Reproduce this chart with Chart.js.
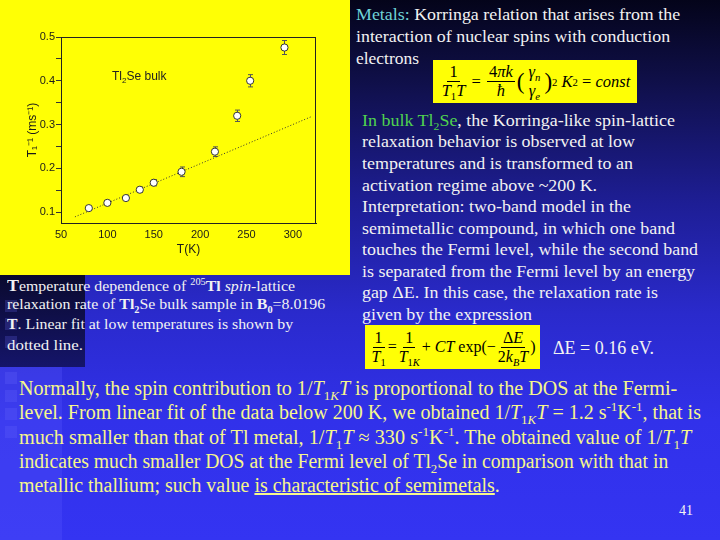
<!DOCTYPE html>
<html>
<head>
<meta charset="utf-8">
<script src="https://cdn.jsdelivr.net/npm/chart.js@4.4.0/dist/chart.umd.min.js"></script>
<style>
  body { margin: 0; width: 720px; height: 540px; overflow: hidden; position: relative;
    background: linear-gradient(to bottom, #04041a 0%, #10104c 16%, #1e1e96 38%, #2a2acc 58%, #3131ea 78%, #3434f2 100%);
    font-family: "Liberation Serif", "Times New Roman", serif; color: #f2f2f2; }
  .ln { position: absolute; white-space: nowrap; line-height: 1; transform-origin: 0 0; }
  #panel { position: absolute; left: 0; top: 0; width: 350px; height: 275px; background: #ffff05; }
  #leftDark { position: absolute; left: 0; top: 275px; width: 85px; height: 92px;
    background: linear-gradient(to bottom, #0a0a2e, #15156a); }
  #strip { position: absolute; left: 0; top: 367px; width: 62px; height: 173px; background: rgba(90, 90, 255, 0.28); }
  .sq { position: absolute; left: 5px; width: 12px; height: 12px; background: rgba(110, 110, 255, 0.22); }
  .box { position: absolute; background: #ffff05; color: #000; display: flex; align-items: center;
    justify-content: center; white-space: nowrap; }
  .fr { display: inline-flex; flex-direction: column; align-items: center; vertical-align: middle; line-height: 1.1; margin: 0 2px; }
  .fr > span:first-child { border-bottom: 1px solid #000; padding: 0 2px; }
  .fr.nb > span:first-child { border-bottom: 0; }
  .big { font-size: 140%; font-weight: lighter; }
  sub, sup { font-size: 65%; line-height: 0; }
  .b { font-weight: bold; }
</style>
</head>
<body>
<div id="leftDark"></div>
<div id="strip"></div>
<div class="sq" style="top:300px"></div>
<div class="sq" style="top:318px"></div>
<div class="sq" style="top:336px"></div>
<div class="sq" style="top:372px"></div>
<div class="sq" style="top:390px"></div>
<div class="sq" style="top:408px"></div>
<div class="sq" style="top:426px"></div>

<div id="panel"><canvas id="chart" width="350" height="275"></canvas></div>

<div class="box" style="left:433px;top:60px;width:204px;height:43px;font-size:16.5px;">
  <span class="fr"><span>1</span><span><i>T</i><sub>1</sub><i>T</i></span></span>
  &nbsp;=&nbsp;
  <span class="fr"><span>4<i>πk</i></span><span><i>ħ</i></span></span>
  <span class="big">(</span><span class="fr nb"><span><i>γ<sub>n</sub></i></span><span><i>γ<sub>e</sub></i></span></span><span class="big">)</span><sup>2</sup>&nbsp;<i>K</i><sup>2</sup>&nbsp;=&nbsp;<i>const</i>
</div>

<div class="box" style="left:365px;top:325px;width:175px;height:44px;font-size:16px;">
  <span class="fr"><span>1</span><span><i>T</i><sub>1</sub></span></span>=
  <span class="fr"><span>1</span><span><i>T</i><sub>1<i>K</i></sub></span></span>+&nbsp;<i>CT</i>&nbsp;exp(−<span class="fr"><span>Δ<i>E</i></span><span>2<i>k<sub>B</sub>T</i></span></span>)
</div>
<div class="ln" style="left:553px;top:339px;font-size:18px;">ΔE = 0.16 eV.</div>
<div class="ln" style="left:679px;top:504px;font-size:14px;">41</div>

<script>
// values
const temps = [80, 100, 120, 135, 150, 180, 216, 240, 254, 291];
const rates = [0.109, 0.121, 0.132, 0.151, 0.167, 0.192, 0.238, 0.32, 0.4, 0.476];
const errs = [0.004, 0.004, 0.005, 0.006, 0.007, 0.011, 0.011, 0.013, 0.014, 0.016];
const fitT = [65, 320];
const fitRate = [0.089, 0.318];
const xTicks = [50, 100, 150, 200, 250, 300];
const yTicks = [0.1, 0.2, 0.3, 0.4, 0.5];
const yMinor = [0.15, 0.25, 0.35, 0.45];

// slide text
function addLines(lines, x, tops, size, widths, color) {
  lines.forEach((html, i) => {
    const d = document.createElement('div');
    d.className = 'ln';
    d.style.left = x + 'px';
    d.style.top = tops[i] + 'px';
    d.style.fontSize = size + 'px';
    if (color) d.style.color = color;
    d.innerHTML = html;
    d.dataset.w = widths[i];
    document.body.appendChild(d);
  });
}

addLines([
  '<span class="b" style="font-size:17px">T</span>emperature dependence of <sup>205</sup><span class="b">Tl</span> <i>spin</i>-lattice',
  'relaxation rate of <span class="b">Tl<sub>2</sub></span>Se bulk sample in <span class="b">B<sub>0</sub></span>=8.0196',
  '<span class="b">T</span>. Linear fit at low temperatures is shown by',
  'dotted line.'
], 7, [277, 297, 317, 338], 15, [288, 318, 286, 76]);

addLines([
  '<span style="color:#6fd3d6">Metals:</span> Korringa relation that arises from the',
  'interaction of nuclear spins with conduction',
  'electrons'
], 356, [6, 28, 50], 17, [324, 314, 63]);

addLines([
  '<span style="color:#4fd24f">In bulk Tl<sub>2</sub>Se</span>, the Korringa-like spin-lattice',
  'relaxation behavior is observed at low',
  'temperatures and is transformed to an',
  'activation regime above ~200 K.',
  'Interpretation: two-band model in the',
  'semimetallic compound, in which one band',
  'touches the Fermi level, while the second band',
  'is separated from the Fermi level by an energy',
  'gap ΔE. In this case, the relaxation rate is',
  'given by the expression'
], 362, [113, 134, 156, 178, 199, 221, 242, 264, 285, 307], 16.5,
  [313, 273, 271, 235, 269, 313, 336, 333, 296, 170]);

addLines([
  'Normally, the spin contribution to 1/<i>T</i><sub>1<i>K</i></sub><i>T</i> is proportional to the DOS at the Fermi-',
  'level. From linear fit of the data below 200 K, we obtained 1/<i>T</i><sub>1<i>K</i></sub><i>T</i> = 1.2 s<sup>-1</sup>K<sup>-1</sup>, that is',
  'much smaller than that of Tl metal, 1/<i>T</i><sub>1</sub><i>T</i> ≈ 330 s<sup>-1</sup>K<sup>-1</sup>. The obtained value of 1/<i>T</i><sub>1</sub><i>T</i>',
  'indicates much smaller DOS at the Fermi level of Tl<sub>2</sub>Se in comparison with that in',
  'metallic thallium; such value <u>is characteristic of semimetals</u>.'
], 19, [378, 402, 427, 451, 475], 20, [658, 682, 672, 649, 481], '#f6f68c');

document.querySelectorAll('.ln[data-w]').forEach(el => {
  const w = el.getBoundingClientRect().width;
  el.style.transform = 'scaleX(' + (el.dataset.w / w).toFixed(3) + ')';
});

// chart
const frame = {
  id: 'frame',
  beforeDatasetsDraw(chart) {
    const { ctx, scales: { x, y } } = chart;
    ctx.save();
    ctx.strokeStyle = '#555';
    ctx.lineWidth = 1;
    temps.forEach((t, i) => {
      const px = Math.round(x.getPixelForValue(t)) + 0.5;
      const top = y.getPixelForValue(rates[i] + errs[i]);
      const bot = y.getPixelForValue(rates[i] - errs[i]);
      ctx.beginPath();
      ctx.moveTo(px, top); ctx.lineTo(px, bot);
      ctx.moveTo(px - 2.5, top); ctx.lineTo(px + 2.5, top);
      ctx.moveTo(px - 2.5, bot); ctx.lineTo(px + 2.5, bot);
      ctx.stroke();
    });
    ctx.restore();
  },
  afterDraw(chart) {
    const { ctx, chartArea: a, scales: { x, y } } = chart;
    ctx.save();
    ctx.strokeStyle = '#222';
    ctx.lineWidth = 1;
    ctx.strokeRect(Math.round(a.left) + 0.5, Math.round(a.top) + 0.5, Math.round(a.width) - 1, Math.round(a.height));
    // sample label
    ctx.fillStyle = '#222';
    ctx.font = '12px "Liberation Sans", Arial, sans-serif';
    ctx.textBaseline = 'alphabetic';
    let lx = x.getPixelForValue(105);
    const ly = y.getPixelForValue(0.402);
    ctx.fillText('Tl', lx, ly);
    lx += ctx.measureText('Tl').width;
    ctx.font = '8px "Liberation Sans", Arial, sans-serif';
    ctx.fillText('2', lx, ly + 3);
    lx += ctx.measureText('2').width;
    ctx.font = '12px "Liberation Sans", Arial, sans-serif';
    ctx.fillText('Se bulk', lx, ly);
    ctx.restore();
  }
};

const sansFont = { family: '"Liberation Sans", Arial, sans-serif', size: 11 };

new Chart(document.getElementById('chart'), {
  type: 'scatter',
  data: {
    datasets: [
      {
        data: temps.map((t, i) => ({ x: t, y: rates[i] })),
        pointRadius: 3.6,
        pointBackgroundColor: '#ffffff',
        pointBorderColor: '#333333',
        pointBorderWidth: 1,
        order: 1
      },
      {
        type: 'line',
        data: fitT.map((t, i) => ({ x: t, y: fitRate[i] })),
        showLine: true,
        borderColor: '#333333',
        borderWidth: 1,
        borderDash: [1, 2],
        pointRadius: 0,
        order: 2
      }
    ]
  },
  options: {
    responsive: false,
    animation: false,
    layout: { padding: { left: 0, right: 34, top: 37, bottom: 0 } },
    plugins: { legend: { display: false }, tooltip: { enabled: false } },
    scales: {
      x: {
        type: 'linear', min: 50, max: 325,
        afterBuildTicks: s => { s.ticks = xTicks.map(v => ({ value: v })); },
        afterFit: s => { s.height = 52; },
        grid: { drawOnChartArea: false, drawTicks: false },
        border: { color: '#222', width: 1 },
        ticks: { padding: 5, color: '#1a1a1a', font: sansFont, maxRotation: 0, autoSkip: false },
        title: { display: true, text: 'T(K)', color: '#1a1a1a', font: { family: sansFont.family, size: 12 }, padding: { top: 0, bottom: 18 } }
      },
      y: {
        type: 'linear', min: 0.075, max: 0.5,
        afterBuildTicks: s => { s.ticks = yTicks.concat(yMinor).sort((a, b) => a - b).map(v => ({ value: v })); },
        afterFit: s => { s.width = 61; },
        grid: { drawOnChartArea: false, drawTicks: true, tickLength: 5, tickColor: '#333' },
        border: { color: '#222', width: 1 },
        ticks: {
          padding: 1, color: '#1a1a1a', font: sansFont, autoSkip: false,
          callback: v => yTicks.some(t => Math.abs(t - v) < 1e-9) ? v.toFixed(1) : ''
        },
        title: { display: true, text: 'T₁⁻¹ (ms⁻¹)', color: '#1a1a1a', font: { family: sansFont.family, size: 12 }, padding: { top: 25, bottom: 0 } }
      }
    }
  },
  plugins: [frame]
});
</script>
</body>
</html>
